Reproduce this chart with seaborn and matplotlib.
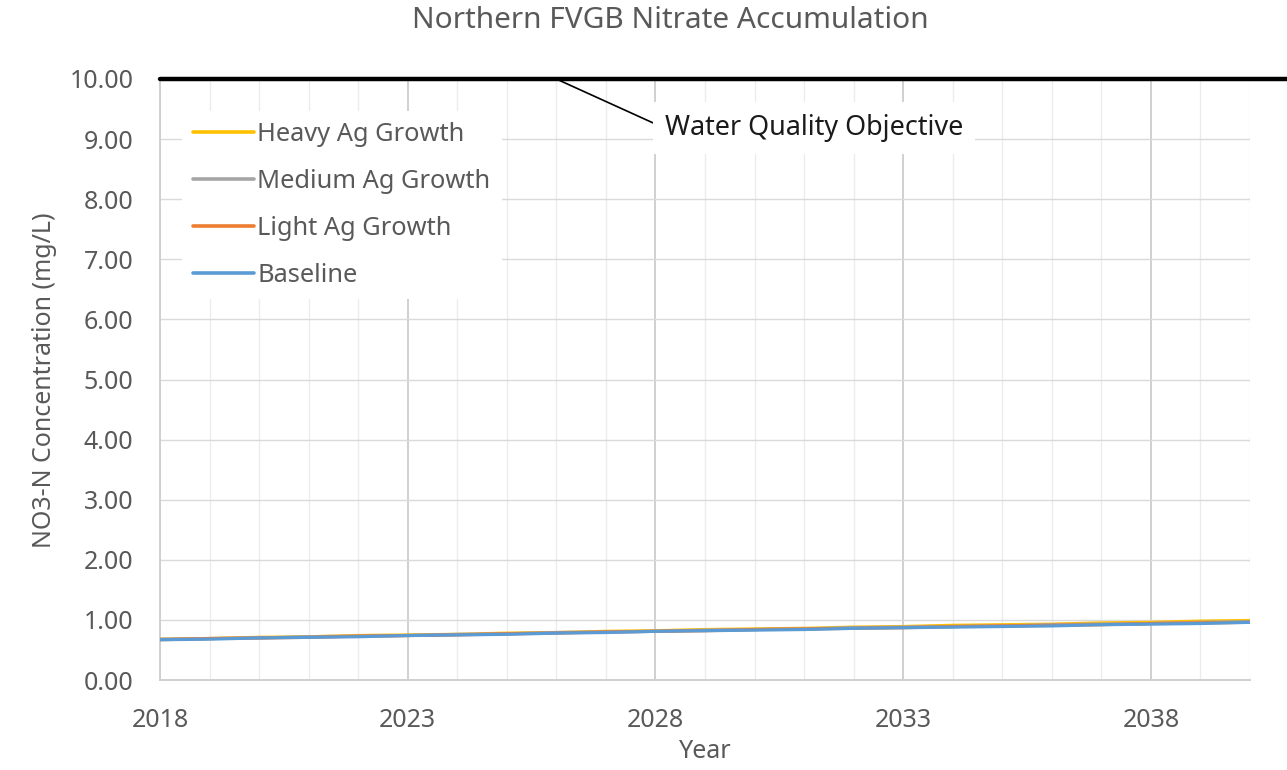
import numpy as np
import pandas as pd
import matplotlib
matplotlib.use("Agg")
import matplotlib.pyplot as plt
import seaborn as sns
from matplotlib.ticker import FixedLocator, MultipleLocator, FormatStrFormatter

years = list(range(2018, 2041))
heavy = [0.68, 0.69, 0.71, 0.72, 0.74, 0.75, 0.76, 0.78, 0.79, 0.81, 0.82, 0.84,
         0.85, 0.86, 0.88, 0.89, 0.91, 0.92, 0.93, 0.95, 0.96, 0.98, 0.99]
medium = [0.68, 0.69, 0.70, 0.72, 0.73, 0.74, 0.76, 0.77, 0.79, 0.80, 0.81, 0.83,
          0.84, 0.85, 0.87, 0.88, 0.89, 0.90, 0.92, 0.93, 0.94, 0.96, 0.97]
light = [0.67, 0.69, 0.70, 0.71, 0.73, 0.74, 0.75, 0.77, 0.78, 0.80, 0.81, 0.82,
         0.84, 0.85, 0.86, 0.87, 0.89, 0.90, 0.91, 0.92, 0.94, 0.95, 0.96]
baseline = [0.67, 0.68, 0.70, 0.71, 0.72, 0.74, 0.75, 0.76, 0.78, 0.79, 0.81, 0.82,
            0.83, 0.84, 0.86, 0.87, 0.88, 0.89, 0.90, 0.92, 0.93, 0.94, 0.96]
series_names = ["Heavy Ag Growth", "Medium Ag Growth", "Light Ag Growth", "Baseline"]
series_colors = ["#FFC000", "#A5A5A5", "#ED7D31", "#5B9BD5"]
wqo_value = 10.0
wqo_label = "Water Quality Objective"
xtick_years = [2018, 2023, 2028, 2033, 2038]

df = pd.DataFrame({"Year": years * 4,
                   "Value": heavy + medium + light + baseline,
                   "Scenario": sum([[n] * len(years) for n in series_names], [])})

sns.set_theme(style="white")
plt.rcParams["font.family"] = ["Noto Sans", "DejaVu Sans"]
txt = "#595959"

fig = plt.figure(figsize=(12.87, 7.70), dpi=100)
ax = fig.add_axes([160 / 1287, 90 / 770, 1090 / 1287, 601 / 770])

sns.lineplot(data=df, x="Year", y="Value", hue="Scenario", hue_order=series_names,
             palette=series_colors, linewidth=2.3, ax=ax, zorder=3, legend=True)

ax.set_xlim(2018, 2040)
ax.set_ylim(0, 10)
ax.xaxis.set_major_locator(FixedLocator(xtick_years))
ax.xaxis.set_minor_locator(MultipleLocator(1))
ax.yaxis.set_major_locator(MultipleLocator(1))
ax.yaxis.set_major_formatter(FormatStrFormatter("%.2f"))
ax.grid(which="major", axis="x", color="#d0d0d0", linewidth=1.4, zorder=0)
ax.grid(which="minor", axis="x", color="#ececec", linewidth=1.0, zorder=0)
ax.grid(which="major", axis="y", color="#dadada", linewidth=1.0, zorder=0)
ax.set_axisbelow(True)
ax.tick_params(axis="both", which="both", length=0, labelsize=18, colors=txt)
ax.tick_params(axis="y", pad=19)
ax.tick_params(axis="x", pad=20)
for s in ["top", "right"]:
    ax.spines[s].set_visible(False)
for s in ["left", "bottom"]:
    ax.spines[s].set_color("#cfcfcf")
    ax.spines[s].set_linewidth(1.4)

ax.axhline(wqo_value, xmin=0, xmax=1.034, color="black", linewidth=3.2, clip_on=False, zorder=4)
ax.annotate(wqo_label, xy=(2026.0, wqo_value), xytext=(2028.19, 9.18),
            fontsize=19.4, color="#1a1a1a", va="center", ha="left",
            bbox=dict(boxstyle="square,pad=0.45", fc="white", ec="none"),
            arrowprops=dict(arrowstyle="-", color="black", lw=1.2, shrinkA=0, shrinkB=0,
                            relpos=(0, 0.5)),
            zorder=5)

fig.text(670 / 1287, 1 - 20 / 770, "Northern FVGB Nitrate Accumulation", fontsize=21.5,
         color=txt, ha="center", va="center")
ax.set_xlabel("Year", fontsize=18, color=txt)
ax.xaxis.label.set_va("center")
ax.xaxis.set_label_coords(0.5, (680 - 751) / 601)
ax.set_ylabel("NO3-N Concentration (mg/L)", fontsize=18, color=txt)
ax.yaxis.label.set_va("center")
ax.yaxis.set_label_coords((45 - 160) / 1090, (680 - 380) / 601)

leg = ax.legend(loc="upper left", bbox_to_anchor=(0.02, 0.947), borderaxespad=0,
                frameon=True, fontsize=18.3, handlelength=2.4, handletextpad=0.12,
                labelspacing=0.86, borderpad=0.45, fancybox=False)
leg.get_frame().set_facecolor("white")
leg.get_frame().set_edgecolor("none")
leg.get_frame().set_alpha(1)
for t in leg.get_texts():
    t.set_color(txt)
for l in leg.get_lines():
    l.set_linewidth(2.6)
leg.set_zorder(6)

fig.savefig("out.png", dpi=100)
